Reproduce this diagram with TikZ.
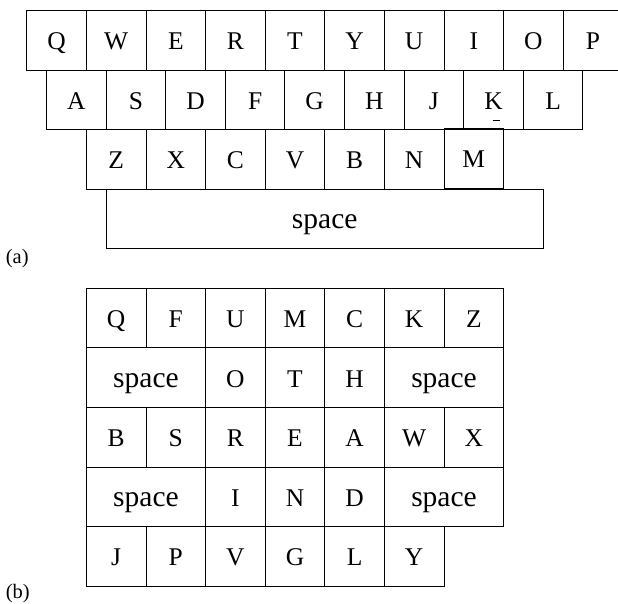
\documentclass[tikz,border=0pt]{standalone}
\usepackage{fontspec}
\setmainfont{Liberation Serif}
\usepackage{tikz}
\usetikzlibrary{positioning}

\begin{document}
\begin{tikzpicture}[x=1pt, y=-1pt,
  key/.style={rectangle, draw, line width=0.9pt, minimum width=59.6pt, minimum height=59.6pt, inner sep=0pt, outer sep=0pt, text height=18.6pt, text depth=0pt, font=\fontsize{25.5pt}{30pt}\selectfont},
  widekey/.style={key, minimum width=119.2pt, font=\fontsize{29.5pt}{34pt}\selectfont},
  spacebar/.style={key, minimum width=437.2pt, font=\fontsize{29.5pt}{34pt}\selectfont},
  sublabel/.style={font=\fontsize{20.5pt}{24pt}\selectfont, inner sep=0pt, anchor=base west},
]
\useasboundingbox (0,0) rectangle (618,604);

% (a) qwerty
\node[key, anchor=north west] (q) at (26.8,10.5) {Q};
\node[key, right=0pt of q] (w) {W};
\node[key, right=0pt of w] (e) {E};
\node[key, right=0pt of e] (r) {R};
\node[key, right=0pt of r] (t) {T};
\node[key, right=0pt of t] (y) {Y};
\node[key, right=0pt of y] (u) {U};
\node[key, right=0pt of u] (i) {I};
\node[key, right=0pt of i] (o) {O};
\node[key, right=0pt of o] (p) {P};

\node[key, below right=0pt and 19.7pt of q.south west] (a) {A};
\node[key, right=0pt of a] (s) {S};
\node[key, right=0pt of s] (d) {D};
\node[key, right=0pt of d] (f) {F};
\node[key, right=0pt of f] (g) {G};
\node[key, right=0pt of g] (h) {H};
\node[key, right=0pt of h] (j) {J};
\node[key, right=0pt of j] (k) {K};
\node[key, right=0pt of k] (l) {L};

\node[key, below=59.6pt of w] (z) {Z};
\node[key, right=0pt of z] (x) {X};
\node[key, right=0pt of x] (c) {C};
\node[key, right=0pt of c] (v) {V};
\node[key, right=0pt of v] (b) {B};
\node[key, right=0pt of b] (n) {N};
\node[key, right=0pt of n, yshift=1pt] (m) {M};

\node[spacebar, below right=59.6pt and 0pt of s.south west] (spc) {space};

\draw[line width=1.2pt] ([shift={(-1pt,9.5pt)}]k.south) -- ([shift={(6pt,9.5pt)}]k.south);

\node[sublabel] (lbla) at (5.7,263) {(a)};

% (b) rearranged
\node[key, below=99pt of z] (bq) {Q};
\node[key, right=0pt of bq] (bf) {F};
\node[key, right=0pt of bf] (bu) {U};
\node[key, right=0pt of bu] (bm) {M};
\node[key, right=0pt of bm] (bc) {C};
\node[key, right=0pt of bc] (bk) {K};
\node[key, right=0pt of bk] (bz) {Z};

\node[widekey, below right=0pt and 0pt of bq.south west] (bsp1) {space};
\node[key, right=0pt of bsp1] (bo) {O};
\node[key, right=0pt of bo] (bt) {T};
\node[key, right=0pt of bt] (bh) {H};
\node[widekey, right=0pt of bh] (bsp2) {space};

\node[key, below=59.6pt of bq] (bb) {B};
\node[key, right=0pt of bb] (bs) {S};
\node[key, right=0pt of bs] (br) {R};
\node[key, right=0pt of br] (be) {E};
\node[key, right=0pt of be] (ba) {A};
\node[key, right=0pt of ba] (bw) {W};
\node[key, right=0pt of bw] (bx) {X};

\node[widekey, below right=0pt and 0pt of bb.south west] (bsp3) {space};
\node[key, right=0pt of bsp3] (bi) {I};
\node[key, right=0pt of bi] (bn) {N};
\node[key, right=0pt of bn] (bd) {D};
\node[widekey, right=0pt of bd] (bsp4) {space};

\node[key, below=59.6pt of bb] (bj) {J};
\node[key, right=0pt of bj] (bp) {P};
\node[key, right=0pt of bp] (bv) {V};
\node[key, right=0pt of bv] (bg) {G};
\node[key, right=0pt of bg] (bl) {L};
\node[key, right=0pt of bl] (by) {Y};

\node[sublabel] (lblb) at (5.7,598.2) {(b)};
\end{tikzpicture}
\end{document}
